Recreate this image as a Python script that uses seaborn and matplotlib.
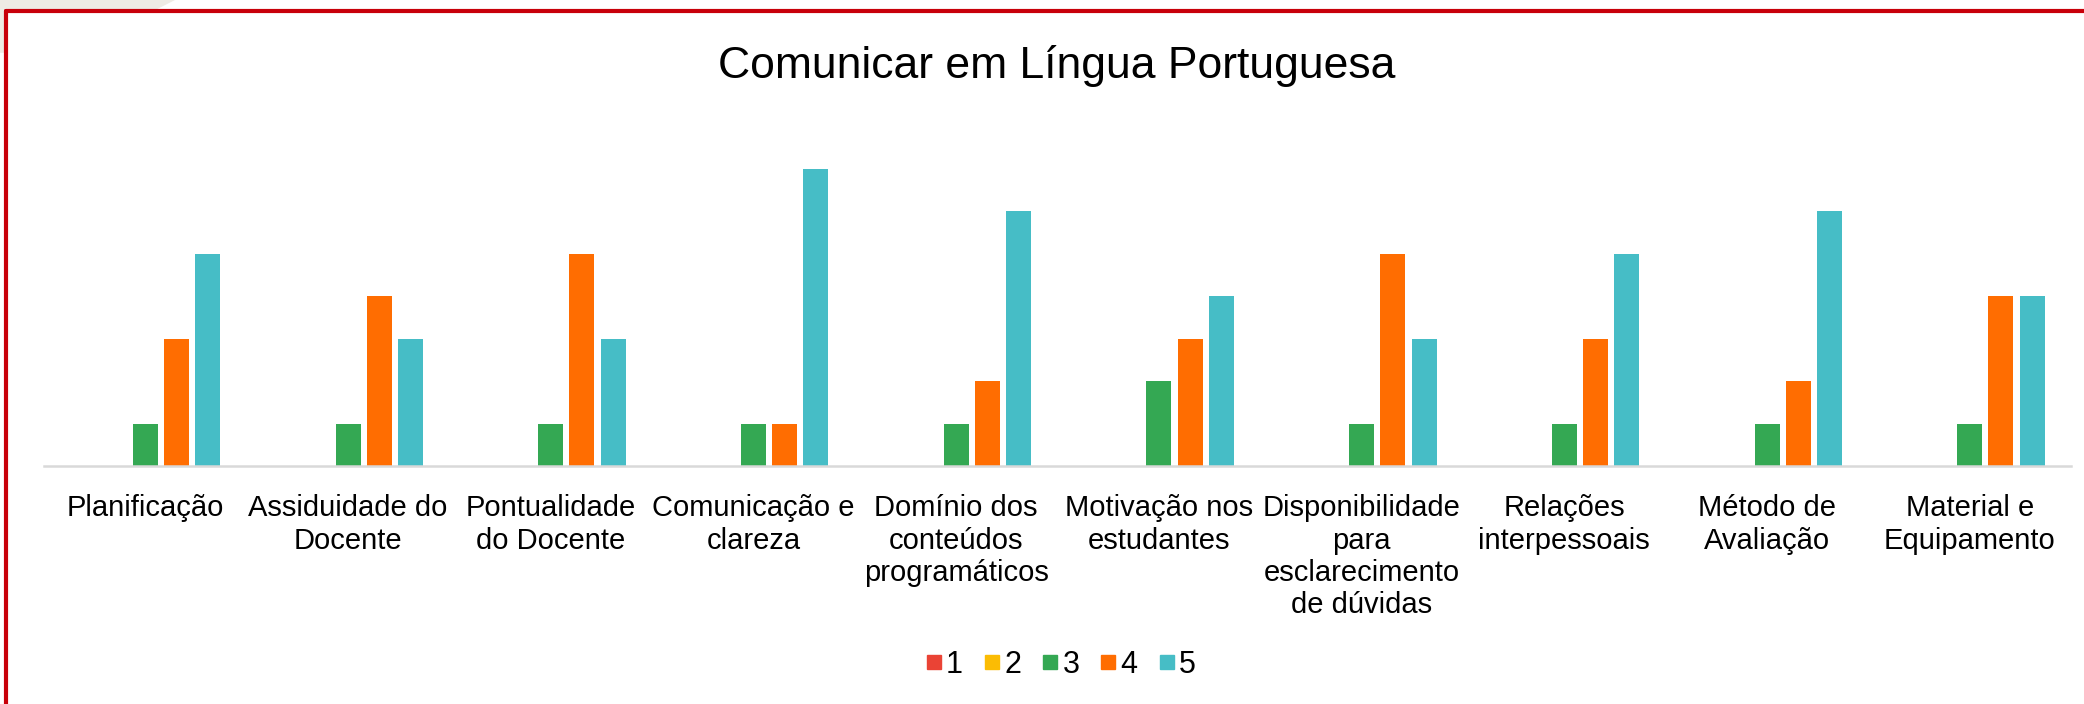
import pandas as pd
import numpy as np
import seaborn as sns
import matplotlib.pyplot as plt
from matplotlib.lines import Line2D
from matplotlib.patches import Polygon

# categorias (rótulos já quebrados em linhas como no gráfico original)
criterios = ["Planificação", "Assiduidade do\nDocente", "Pontualidade\ndo Docente",
             "Comunicação e\nclareza", "Domínio dos\nconteúdos\nprogramáticos",
             "Motivação nos\nestudantes", "Disponibilidade\npara\nesclarecimento\nde dúvidas",
             "Relações\ninterpessoais", "Método de\nAvaliação", "Material e\nEquipamento"]
notas = ["1", "2", "3", "4", "5"]

# número de respostas por nota
nota_1 = [0, 0, 0, 0, 0, 0, 0, 0, 0, 0]
nota_2 = [0, 0, 0, 0, 0, 0, 0, 0, 0, 0]
nota_3 = [1, 1, 1, 1, 1, 2, 1, 1, 1, 1]
nota_4 = [3, 4, 5, 1, 2, 3, 5, 3, 2, 4]
nota_5 = [5, 3, 3, 7, 6, 4, 3, 5, 6, 4]

cores = ["#EA4335", "#FBBC04", "#34A853", "#FF6D01", "#46BDC6"]

df = pd.DataFrame({"1": nota_1, "2": nota_2, "3": nota_3, "4": nota_4, "5": nota_5}, index=criterios)
df = df.reset_index().melt(id_vars="index", var_name="nota", value_name="valor")
df.rename(columns={"index": "criterio"}, inplace=True)

sns.set_style("white")
plt.rcParams['font.family'] = ['Liberation Sans', 'DejaVu Sans']
plt.rcParams['text.color'] = 'black'
plt.rcParams['xtick.color'] = 'black'

fig = plt.figure(figsize=(20.84, 7.04), dpi=100)
ax = fig.add_axes([0.0211, 0.3374, 0.9727, 0.468])

sns.barplot(data=df, x="criterio", y="valor", hue="nota", hue_order=notas, palette=cores,
            saturation=1, width=0.77, gap=0.2, linewidth=0, legend=False, ax=ax, errorbar=None)

ax.set_ylim(0, 7.75)
ax.set_xlim(-0.5, 9.5)
ax.set_xlabel("")
ax.set_ylabel("")
ax.set_yticks([])
ax.tick_params(axis="x", length=0, pad=20, labelsize=21, labelcolor="black")
for s in ["top", "right", "left"]:
    ax.spines[s].set_visible(False)
ax.spines["bottom"].set_color("#d9d9d9")
ax.spines["bottom"].set_linewidth(1.8)

fig.text(0.507, 0.906, "Comunicar em Língua Portuguesa", ha="center", va="center", fontsize=32)

# legenda
handles = [Line2D([0], [0], marker="s", linestyle="", markersize=10, markerfacecolor=c,
                  markeredgecolor=c) for c in cores]
fig.legend(handles, notas, loc="center", bbox_to_anchor=(0.508, 0.056), ncol=5, frameon=False,
           fontsize=22, handletextpad=0.0, columnspacing=0.55, handlelength=0.8)

# moldura vermelha e canto bege
fig.patches.append(Polygon([[0, 1], [0.084, 1], [0.074, 0.985], [0.003, 0.985], [0.003, 0.925], [0, 0.925]],
                           closed=True, transform=fig.transFigure, facecolor="#eeebe4", edgecolor="none"))
fig.add_artist(Line2D([0.0031, 1.0], [0.985, 0.985], color="#c8000a", linewidth=3, transform=fig.transFigure))
fig.add_artist(Line2D([0.0031, 0.0031], [0.0, 0.985], color="#c8000a", linewidth=3, transform=fig.transFigure))

plt.savefig("out.png", dpi=100)
